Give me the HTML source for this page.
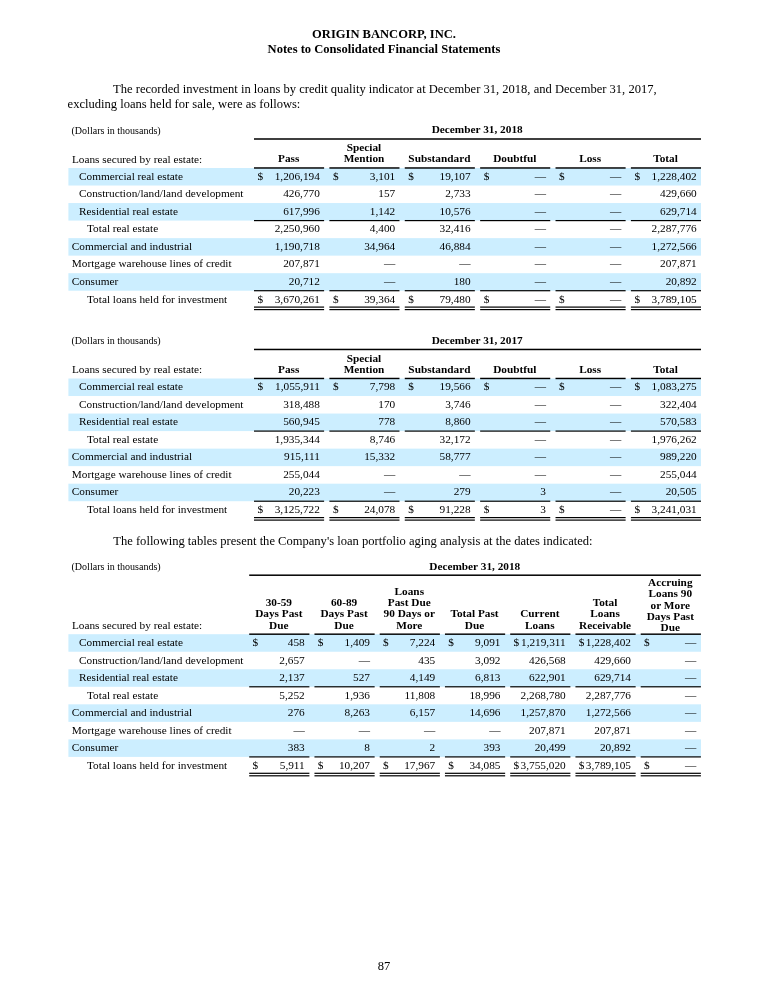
<!DOCTYPE html>
<html><head><meta charset="utf-8"><title>Origin Bancorp</title>
<style>
html,body{margin:0;padding:0;background:#fff;}
body{width:768px;height:993px;position:relative;overflow:hidden;font-family:"Liberation Serif",serif;color:#000;}
.t{position:absolute;white-space:nowrap;line-height:16px;}
.bg{position:absolute;left:0;top:0;}
.txt{position:absolute;left:0;top:0;width:768px;height:993px;will-change:transform;}
</style></head><body>
<svg class="bg" width="768" height="993" viewBox="0 0 768 993">
<rect x="68.40" y="168.00" width="632.60" height="17.53" fill="#cceeff"/>
<rect x="68.40" y="203.06" width="632.60" height="17.53" fill="#cceeff"/>
<rect x="68.40" y="238.12" width="632.60" height="17.53" fill="#cceeff"/>
<rect x="68.40" y="273.18" width="632.60" height="17.53" fill="#cceeff"/>
<rect x="254.00" y="138.25" width="447.00" height="1.50" fill="#000"/>
<rect x="254.00" y="167.25" width="70.10" height="1.45" fill="#000"/>
<rect x="329.38" y="167.25" width="70.10" height="1.45" fill="#000"/>
<rect x="404.76" y="167.25" width="70.10" height="1.45" fill="#000"/>
<rect x="480.14" y="167.25" width="70.10" height="1.45" fill="#000"/>
<rect x="555.52" y="167.25" width="70.10" height="1.45" fill="#000"/>
<rect x="630.90" y="167.25" width="70.10" height="1.45" fill="#000"/>
<rect x="254.00" y="219.99" width="70.10" height="1.20" fill="#000"/>
<rect x="329.38" y="219.99" width="70.10" height="1.20" fill="#000"/>
<rect x="404.76" y="219.99" width="70.10" height="1.20" fill="#000"/>
<rect x="480.14" y="219.99" width="70.10" height="1.20" fill="#000"/>
<rect x="555.52" y="219.99" width="70.10" height="1.20" fill="#000"/>
<rect x="630.90" y="219.99" width="70.10" height="1.20" fill="#000"/>
<rect x="254.00" y="290.11" width="70.10" height="1.20" fill="#000"/>
<rect x="329.38" y="290.11" width="70.10" height="1.20" fill="#000"/>
<rect x="404.76" y="290.11" width="70.10" height="1.20" fill="#000"/>
<rect x="480.14" y="290.11" width="70.10" height="1.20" fill="#000"/>
<rect x="555.52" y="290.11" width="70.10" height="1.20" fill="#000"/>
<rect x="630.90" y="290.11" width="70.10" height="1.20" fill="#000"/>
<rect x="254.00" y="306.50" width="70.10" height="1.20" fill="#000"/>
<rect x="254.00" y="309.00" width="70.10" height="1.20" fill="#000"/>
<rect x="329.38" y="306.50" width="70.10" height="1.20" fill="#000"/>
<rect x="329.38" y="309.00" width="70.10" height="1.20" fill="#000"/>
<rect x="404.76" y="306.50" width="70.10" height="1.20" fill="#000"/>
<rect x="404.76" y="309.00" width="70.10" height="1.20" fill="#000"/>
<rect x="480.14" y="306.50" width="70.10" height="1.20" fill="#000"/>
<rect x="480.14" y="309.00" width="70.10" height="1.20" fill="#000"/>
<rect x="555.52" y="306.50" width="70.10" height="1.20" fill="#000"/>
<rect x="555.52" y="309.00" width="70.10" height="1.20" fill="#000"/>
<rect x="630.90" y="306.50" width="70.10" height="1.20" fill="#000"/>
<rect x="630.90" y="309.00" width="70.10" height="1.20" fill="#000"/>
<rect x="68.40" y="378.50" width="632.60" height="17.53" fill="#cceeff"/>
<rect x="68.40" y="413.56" width="632.60" height="17.53" fill="#cceeff"/>
<rect x="68.40" y="448.62" width="632.60" height="17.53" fill="#cceeff"/>
<rect x="68.40" y="483.68" width="632.60" height="17.53" fill="#cceeff"/>
<rect x="254.00" y="348.72" width="447.00" height="1.50" fill="#000"/>
<rect x="254.00" y="377.75" width="70.10" height="1.45" fill="#000"/>
<rect x="329.38" y="377.75" width="70.10" height="1.45" fill="#000"/>
<rect x="404.76" y="377.75" width="70.10" height="1.45" fill="#000"/>
<rect x="480.14" y="377.75" width="70.10" height="1.45" fill="#000"/>
<rect x="555.52" y="377.75" width="70.10" height="1.45" fill="#000"/>
<rect x="630.90" y="377.75" width="70.10" height="1.45" fill="#000"/>
<rect x="254.00" y="430.49" width="70.10" height="1.20" fill="#000"/>
<rect x="329.38" y="430.49" width="70.10" height="1.20" fill="#000"/>
<rect x="404.76" y="430.49" width="70.10" height="1.20" fill="#000"/>
<rect x="480.14" y="430.49" width="70.10" height="1.20" fill="#000"/>
<rect x="555.52" y="430.49" width="70.10" height="1.20" fill="#000"/>
<rect x="630.90" y="430.49" width="70.10" height="1.20" fill="#000"/>
<rect x="254.00" y="500.61" width="70.10" height="1.20" fill="#000"/>
<rect x="329.38" y="500.61" width="70.10" height="1.20" fill="#000"/>
<rect x="404.76" y="500.61" width="70.10" height="1.20" fill="#000"/>
<rect x="480.14" y="500.61" width="70.10" height="1.20" fill="#000"/>
<rect x="555.52" y="500.61" width="70.10" height="1.20" fill="#000"/>
<rect x="630.90" y="500.61" width="70.10" height="1.20" fill="#000"/>
<rect x="254.00" y="517.00" width="70.10" height="1.20" fill="#000"/>
<rect x="254.00" y="519.50" width="70.10" height="1.20" fill="#000"/>
<rect x="329.38" y="517.00" width="70.10" height="1.20" fill="#000"/>
<rect x="329.38" y="519.50" width="70.10" height="1.20" fill="#000"/>
<rect x="404.76" y="517.00" width="70.10" height="1.20" fill="#000"/>
<rect x="404.76" y="519.50" width="70.10" height="1.20" fill="#000"/>
<rect x="480.14" y="517.00" width="70.10" height="1.20" fill="#000"/>
<rect x="480.14" y="519.50" width="70.10" height="1.20" fill="#000"/>
<rect x="555.52" y="517.00" width="70.10" height="1.20" fill="#000"/>
<rect x="555.52" y="519.50" width="70.10" height="1.20" fill="#000"/>
<rect x="630.90" y="517.00" width="70.10" height="1.20" fill="#000"/>
<rect x="630.90" y="519.50" width="70.10" height="1.20" fill="#000"/>
<rect x="68.40" y="634.20" width="632.60" height="17.53" fill="#cceeff"/>
<rect x="68.40" y="669.26" width="632.60" height="17.53" fill="#cceeff"/>
<rect x="68.40" y="704.32" width="632.60" height="17.53" fill="#cceeff"/>
<rect x="68.40" y="739.38" width="632.60" height="17.53" fill="#cceeff"/>
<rect x="249.20" y="574.45" width="451.70" height="1.50" fill="#000"/>
<rect x="249.20" y="633.45" width="60.20" height="1.45" fill="#000"/>
<rect x="314.45" y="633.45" width="60.20" height="1.45" fill="#000"/>
<rect x="379.70" y="633.45" width="60.20" height="1.45" fill="#000"/>
<rect x="444.95" y="633.45" width="60.20" height="1.45" fill="#000"/>
<rect x="510.20" y="633.45" width="60.20" height="1.45" fill="#000"/>
<rect x="575.45" y="633.45" width="60.20" height="1.45" fill="#000"/>
<rect x="640.70" y="633.45" width="60.20" height="1.45" fill="#000"/>
<rect x="249.20" y="686.19" width="60.20" height="1.20" fill="#000"/>
<rect x="314.45" y="686.19" width="60.20" height="1.20" fill="#000"/>
<rect x="379.70" y="686.19" width="60.20" height="1.20" fill="#000"/>
<rect x="444.95" y="686.19" width="60.20" height="1.20" fill="#000"/>
<rect x="510.20" y="686.19" width="60.20" height="1.20" fill="#000"/>
<rect x="575.45" y="686.19" width="60.20" height="1.20" fill="#000"/>
<rect x="640.70" y="686.19" width="60.20" height="1.20" fill="#000"/>
<rect x="249.20" y="756.31" width="60.20" height="1.20" fill="#000"/>
<rect x="314.45" y="756.31" width="60.20" height="1.20" fill="#000"/>
<rect x="379.70" y="756.31" width="60.20" height="1.20" fill="#000"/>
<rect x="444.95" y="756.31" width="60.20" height="1.20" fill="#000"/>
<rect x="510.20" y="756.31" width="60.20" height="1.20" fill="#000"/>
<rect x="575.45" y="756.31" width="60.20" height="1.20" fill="#000"/>
<rect x="640.70" y="756.31" width="60.20" height="1.20" fill="#000"/>
<rect x="249.20" y="772.70" width="60.20" height="1.20" fill="#000"/>
<rect x="249.20" y="775.20" width="60.20" height="1.20" fill="#000"/>
<rect x="314.45" y="772.70" width="60.20" height="1.20" fill="#000"/>
<rect x="314.45" y="775.20" width="60.20" height="1.20" fill="#000"/>
<rect x="379.70" y="772.70" width="60.20" height="1.20" fill="#000"/>
<rect x="379.70" y="775.20" width="60.20" height="1.20" fill="#000"/>
<rect x="444.95" y="772.70" width="60.20" height="1.20" fill="#000"/>
<rect x="444.95" y="775.20" width="60.20" height="1.20" fill="#000"/>
<rect x="510.20" y="772.70" width="60.20" height="1.20" fill="#000"/>
<rect x="510.20" y="775.20" width="60.20" height="1.20" fill="#000"/>
<rect x="575.45" y="772.70" width="60.20" height="1.20" fill="#000"/>
<rect x="575.45" y="775.20" width="60.20" height="1.20" fill="#000"/>
<rect x="640.70" y="772.70" width="60.20" height="1.20" fill="#000"/>
<rect x="640.70" y="775.20" width="60.20" height="1.20" fill="#000"/>
</svg>
<div class="txt">
<div class="t" style="top:26px;font-size:12.55px;font-weight:bold;left:134.00px;width:500.00px;text-align:center;">ORIGIN BANCORP, INC.</div>
<div class="t" style="top:41px;font-size:12.55px;font-weight:bold;left:134.00px;width:500.00px;text-align:center;">Notes to Consolidated Financial Statements</div>
<div class="t" style="top:81px;font-size:12.55px;left:113.10px;">The recorded investment in loans by credit quality indicator at December 31, 2018, and December 31, 2017,</div>
<div class="t" style="top:96px;font-size:12.55px;left:67.60px;">excluding loans held for sale, were as follows:</div>
<div class="t" style="top:123px;font-size:10.04px;left:71.50px;">(Dollars in thousands)</div>
<div class="t" style="top:121px;font-size:11.29px;font-weight:bold;left:327.20px;width:300.00px;text-align:center;">December 31, 2018</div>
<div class="t" style="top:151px;font-size:11.29px;left:71.90px;">Loans secured by real estate:</div>
<div class="t" style="top:150px;font-size:11.29px;font-weight:bold;left:228.65px;width:120.00px;text-align:center;">Pass</div>
<div class="t" style="top:139px;font-size:11.29px;font-weight:bold;left:304.03px;width:120.00px;text-align:center;">Special</div>
<div class="t" style="top:150px;font-size:11.29px;font-weight:bold;left:304.03px;width:120.00px;text-align:center;">Mention</div>
<div class="t" style="top:150px;font-size:11.29px;font-weight:bold;left:379.41px;width:120.00px;text-align:center;">Substandard</div>
<div class="t" style="top:150px;font-size:11.29px;font-weight:bold;left:454.79px;width:120.00px;text-align:center;">Doubtful</div>
<div class="t" style="top:150px;font-size:11.29px;font-weight:bold;left:530.17px;width:120.00px;text-align:center;">Loss</div>
<div class="t" style="top:150px;font-size:11.29px;font-weight:bold;left:605.55px;width:120.00px;text-align:center;">Total</div>
<div class="t" style="top:168px;font-size:11.29px;left:79.00px;">Commercial real estate</div>
<div class="t" style="top:168px;font-size:11.29px;right:448.20px;text-align:right;">1,206,194</div>
<div class="t" style="top:168px;font-size:11.29px;left:257.50px;">$</div>
<div class="t" style="top:168px;font-size:11.29px;right:372.82px;text-align:right;">3,101</div>
<div class="t" style="top:168px;font-size:11.29px;left:332.88px;">$</div>
<div class="t" style="top:168px;font-size:11.29px;right:297.44px;text-align:right;">19,107</div>
<div class="t" style="top:168px;font-size:11.29px;left:408.26px;">$</div>
<div class="t" style="top:168px;font-size:11.29px;right:222.06px;text-align:right;">&#8212;</div>
<div class="t" style="top:168px;font-size:11.29px;left:483.64px;">$</div>
<div class="t" style="top:168px;font-size:11.29px;right:146.68px;text-align:right;">&#8212;</div>
<div class="t" style="top:168px;font-size:11.29px;left:559.02px;">$</div>
<div class="t" style="top:168px;font-size:11.29px;right:71.30px;text-align:right;">1,228,402</div>
<div class="t" style="top:168px;font-size:11.29px;left:634.40px;">$</div>
<div class="t" style="top:185px;font-size:11.29px;left:79.00px;">Construction/land/land development</div>
<div class="t" style="top:185px;font-size:11.29px;right:448.20px;text-align:right;">426,770</div>
<div class="t" style="top:185px;font-size:11.29px;right:372.82px;text-align:right;">157</div>
<div class="t" style="top:185px;font-size:11.29px;right:297.44px;text-align:right;">2,733</div>
<div class="t" style="top:185px;font-size:11.29px;right:222.06px;text-align:right;">&#8212;</div>
<div class="t" style="top:185px;font-size:11.29px;right:146.68px;text-align:right;">&#8212;</div>
<div class="t" style="top:185px;font-size:11.29px;right:71.30px;text-align:right;">429,660</div>
<div class="t" style="top:203px;font-size:11.29px;left:79.00px;">Residential real estate</div>
<div class="t" style="top:203px;font-size:11.29px;right:448.20px;text-align:right;">617,996</div>
<div class="t" style="top:203px;font-size:11.29px;right:372.82px;text-align:right;">1,142</div>
<div class="t" style="top:203px;font-size:11.29px;right:297.44px;text-align:right;">10,576</div>
<div class="t" style="top:203px;font-size:11.29px;right:222.06px;text-align:right;">&#8212;</div>
<div class="t" style="top:203px;font-size:11.29px;right:146.68px;text-align:right;">&#8212;</div>
<div class="t" style="top:203px;font-size:11.29px;right:71.30px;text-align:right;">629,714</div>
<div class="t" style="top:220px;font-size:11.29px;left:87.00px;">Total real estate</div>
<div class="t" style="top:220px;font-size:11.29px;right:448.20px;text-align:right;">2,250,960</div>
<div class="t" style="top:220px;font-size:11.29px;right:372.82px;text-align:right;">4,400</div>
<div class="t" style="top:220px;font-size:11.29px;right:297.44px;text-align:right;">32,416</div>
<div class="t" style="top:220px;font-size:11.29px;right:222.06px;text-align:right;">&#8212;</div>
<div class="t" style="top:220px;font-size:11.29px;right:146.68px;text-align:right;">&#8212;</div>
<div class="t" style="top:220px;font-size:11.29px;right:71.30px;text-align:right;">2,287,776</div>
<div class="t" style="top:238px;font-size:11.29px;left:71.80px;">Commercial and industrial</div>
<div class="t" style="top:238px;font-size:11.29px;right:448.20px;text-align:right;">1,190,718</div>
<div class="t" style="top:238px;font-size:11.29px;right:372.82px;text-align:right;">34,964</div>
<div class="t" style="top:238px;font-size:11.29px;right:297.44px;text-align:right;">46,884</div>
<div class="t" style="top:238px;font-size:11.29px;right:222.06px;text-align:right;">&#8212;</div>
<div class="t" style="top:238px;font-size:11.29px;right:146.68px;text-align:right;">&#8212;</div>
<div class="t" style="top:238px;font-size:11.29px;right:71.30px;text-align:right;">1,272,566</div>
<div class="t" style="top:255px;font-size:11.29px;left:71.80px;">Mortgage warehouse lines of credit</div>
<div class="t" style="top:255px;font-size:11.29px;right:448.20px;text-align:right;">207,871</div>
<div class="t" style="top:255px;font-size:11.29px;right:372.82px;text-align:right;">&#8212;</div>
<div class="t" style="top:255px;font-size:11.29px;right:297.44px;text-align:right;">&#8212;</div>
<div class="t" style="top:255px;font-size:11.29px;right:222.06px;text-align:right;">&#8212;</div>
<div class="t" style="top:255px;font-size:11.29px;right:146.68px;text-align:right;">&#8212;</div>
<div class="t" style="top:255px;font-size:11.29px;right:71.30px;text-align:right;">207,871</div>
<div class="t" style="top:273px;font-size:11.29px;left:71.80px;">Consumer</div>
<div class="t" style="top:273px;font-size:11.29px;right:448.20px;text-align:right;">20,712</div>
<div class="t" style="top:273px;font-size:11.29px;right:372.82px;text-align:right;">&#8212;</div>
<div class="t" style="top:273px;font-size:11.29px;right:297.44px;text-align:right;">180</div>
<div class="t" style="top:273px;font-size:11.29px;right:222.06px;text-align:right;">&#8212;</div>
<div class="t" style="top:273px;font-size:11.29px;right:146.68px;text-align:right;">&#8212;</div>
<div class="t" style="top:273px;font-size:11.29px;right:71.30px;text-align:right;">20,892</div>
<div class="t" style="top:291px;font-size:11.29px;left:87.00px;">Total loans held for investment</div>
<div class="t" style="top:291px;font-size:11.29px;right:448.20px;text-align:right;">3,670,261</div>
<div class="t" style="top:291px;font-size:11.29px;left:257.50px;">$</div>
<div class="t" style="top:291px;font-size:11.29px;right:372.82px;text-align:right;">39,364</div>
<div class="t" style="top:291px;font-size:11.29px;left:332.88px;">$</div>
<div class="t" style="top:291px;font-size:11.29px;right:297.44px;text-align:right;">79,480</div>
<div class="t" style="top:291px;font-size:11.29px;left:408.26px;">$</div>
<div class="t" style="top:291px;font-size:11.29px;right:222.06px;text-align:right;">&#8212;</div>
<div class="t" style="top:291px;font-size:11.29px;left:483.64px;">$</div>
<div class="t" style="top:291px;font-size:11.29px;right:146.68px;text-align:right;">&#8212;</div>
<div class="t" style="top:291px;font-size:11.29px;left:559.02px;">$</div>
<div class="t" style="top:291px;font-size:11.29px;right:71.30px;text-align:right;">3,789,105</div>
<div class="t" style="top:291px;font-size:11.29px;left:634.40px;">$</div>
<div class="t" style="top:333px;font-size:10.04px;left:71.50px;">(Dollars in thousands)</div>
<div class="t" style="top:332px;font-size:11.29px;font-weight:bold;left:327.20px;width:300.00px;text-align:center;">December 31, 2017</div>
<div class="t" style="top:361px;font-size:11.29px;left:71.90px;">Loans secured by real estate:</div>
<div class="t" style="top:361px;font-size:11.29px;font-weight:bold;left:228.65px;width:120.00px;text-align:center;">Pass</div>
<div class="t" style="top:350px;font-size:11.29px;font-weight:bold;left:304.03px;width:120.00px;text-align:center;">Special</div>
<div class="t" style="top:361px;font-size:11.29px;font-weight:bold;left:304.03px;width:120.00px;text-align:center;">Mention</div>
<div class="t" style="top:361px;font-size:11.29px;font-weight:bold;left:379.41px;width:120.00px;text-align:center;">Substandard</div>
<div class="t" style="top:361px;font-size:11.29px;font-weight:bold;left:454.79px;width:120.00px;text-align:center;">Doubtful</div>
<div class="t" style="top:361px;font-size:11.29px;font-weight:bold;left:530.17px;width:120.00px;text-align:center;">Loss</div>
<div class="t" style="top:361px;font-size:11.29px;font-weight:bold;left:605.55px;width:120.00px;text-align:center;">Total</div>
<div class="t" style="top:378px;font-size:11.29px;left:79.00px;">Commercial real estate</div>
<div class="t" style="top:378px;font-size:11.29px;right:448.20px;text-align:right;">1,055,911</div>
<div class="t" style="top:378px;font-size:11.29px;left:257.50px;">$</div>
<div class="t" style="top:378px;font-size:11.29px;right:372.82px;text-align:right;">7,798</div>
<div class="t" style="top:378px;font-size:11.29px;left:332.88px;">$</div>
<div class="t" style="top:378px;font-size:11.29px;right:297.44px;text-align:right;">19,566</div>
<div class="t" style="top:378px;font-size:11.29px;left:408.26px;">$</div>
<div class="t" style="top:378px;font-size:11.29px;right:222.06px;text-align:right;">&#8212;</div>
<div class="t" style="top:378px;font-size:11.29px;left:483.64px;">$</div>
<div class="t" style="top:378px;font-size:11.29px;right:146.68px;text-align:right;">&#8212;</div>
<div class="t" style="top:378px;font-size:11.29px;left:559.02px;">$</div>
<div class="t" style="top:378px;font-size:11.29px;right:71.30px;text-align:right;">1,083,275</div>
<div class="t" style="top:378px;font-size:11.29px;left:634.40px;">$</div>
<div class="t" style="top:396px;font-size:11.29px;left:79.00px;">Construction/land/land development</div>
<div class="t" style="top:396px;font-size:11.29px;right:448.20px;text-align:right;">318,488</div>
<div class="t" style="top:396px;font-size:11.29px;right:372.82px;text-align:right;">170</div>
<div class="t" style="top:396px;font-size:11.29px;right:297.44px;text-align:right;">3,746</div>
<div class="t" style="top:396px;font-size:11.29px;right:222.06px;text-align:right;">&#8212;</div>
<div class="t" style="top:396px;font-size:11.29px;right:146.68px;text-align:right;">&#8212;</div>
<div class="t" style="top:396px;font-size:11.29px;right:71.30px;text-align:right;">322,404</div>
<div class="t" style="top:413px;font-size:11.29px;left:79.00px;">Residential real estate</div>
<div class="t" style="top:413px;font-size:11.29px;right:448.20px;text-align:right;">560,945</div>
<div class="t" style="top:413px;font-size:11.29px;right:372.82px;text-align:right;">778</div>
<div class="t" style="top:413px;font-size:11.29px;right:297.44px;text-align:right;">8,860</div>
<div class="t" style="top:413px;font-size:11.29px;right:222.06px;text-align:right;">&#8212;</div>
<div class="t" style="top:413px;font-size:11.29px;right:146.68px;text-align:right;">&#8212;</div>
<div class="t" style="top:413px;font-size:11.29px;right:71.30px;text-align:right;">570,583</div>
<div class="t" style="top:431px;font-size:11.29px;left:87.00px;">Total real estate</div>
<div class="t" style="top:431px;font-size:11.29px;right:448.20px;text-align:right;">1,935,344</div>
<div class="t" style="top:431px;font-size:11.29px;right:372.82px;text-align:right;">8,746</div>
<div class="t" style="top:431px;font-size:11.29px;right:297.44px;text-align:right;">32,172</div>
<div class="t" style="top:431px;font-size:11.29px;right:222.06px;text-align:right;">&#8212;</div>
<div class="t" style="top:431px;font-size:11.29px;right:146.68px;text-align:right;">&#8212;</div>
<div class="t" style="top:431px;font-size:11.29px;right:71.30px;text-align:right;">1,976,262</div>
<div class="t" style="top:448px;font-size:11.29px;left:71.80px;">Commercial and industrial</div>
<div class="t" style="top:448px;font-size:11.29px;right:448.20px;text-align:right;">915,111</div>
<div class="t" style="top:448px;font-size:11.29px;right:372.82px;text-align:right;">15,332</div>
<div class="t" style="top:448px;font-size:11.29px;right:297.44px;text-align:right;">58,777</div>
<div class="t" style="top:448px;font-size:11.29px;right:222.06px;text-align:right;">&#8212;</div>
<div class="t" style="top:448px;font-size:11.29px;right:146.68px;text-align:right;">&#8212;</div>
<div class="t" style="top:448px;font-size:11.29px;right:71.30px;text-align:right;">989,220</div>
<div class="t" style="top:466px;font-size:11.29px;left:71.80px;">Mortgage warehouse lines of credit</div>
<div class="t" style="top:466px;font-size:11.29px;right:448.20px;text-align:right;">255,044</div>
<div class="t" style="top:466px;font-size:11.29px;right:372.82px;text-align:right;">&#8212;</div>
<div class="t" style="top:466px;font-size:11.29px;right:297.44px;text-align:right;">&#8212;</div>
<div class="t" style="top:466px;font-size:11.29px;right:222.06px;text-align:right;">&#8212;</div>
<div class="t" style="top:466px;font-size:11.29px;right:146.68px;text-align:right;">&#8212;</div>
<div class="t" style="top:466px;font-size:11.29px;right:71.30px;text-align:right;">255,044</div>
<div class="t" style="top:483px;font-size:11.29px;left:71.80px;">Consumer</div>
<div class="t" style="top:483px;font-size:11.29px;right:448.20px;text-align:right;">20,223</div>
<div class="t" style="top:483px;font-size:11.29px;right:372.82px;text-align:right;">&#8212;</div>
<div class="t" style="top:483px;font-size:11.29px;right:297.44px;text-align:right;">279</div>
<div class="t" style="top:483px;font-size:11.29px;right:222.06px;text-align:right;">3</div>
<div class="t" style="top:483px;font-size:11.29px;right:146.68px;text-align:right;">&#8212;</div>
<div class="t" style="top:483px;font-size:11.29px;right:71.30px;text-align:right;">20,505</div>
<div class="t" style="top:501px;font-size:11.29px;left:87.00px;">Total loans held for investment</div>
<div class="t" style="top:501px;font-size:11.29px;right:448.20px;text-align:right;">3,125,722</div>
<div class="t" style="top:501px;font-size:11.29px;left:257.50px;">$</div>
<div class="t" style="top:501px;font-size:11.29px;right:372.82px;text-align:right;">24,078</div>
<div class="t" style="top:501px;font-size:11.29px;left:332.88px;">$</div>
<div class="t" style="top:501px;font-size:11.29px;right:297.44px;text-align:right;">91,228</div>
<div class="t" style="top:501px;font-size:11.29px;left:408.26px;">$</div>
<div class="t" style="top:501px;font-size:11.29px;right:222.06px;text-align:right;">3</div>
<div class="t" style="top:501px;font-size:11.29px;left:483.64px;">$</div>
<div class="t" style="top:501px;font-size:11.29px;right:146.68px;text-align:right;">&#8212;</div>
<div class="t" style="top:501px;font-size:11.29px;left:559.02px;">$</div>
<div class="t" style="top:501px;font-size:11.29px;right:71.30px;text-align:right;">3,241,031</div>
<div class="t" style="top:501px;font-size:11.29px;left:634.40px;">$</div>
<div class="t" style="top:533px;font-size:12.55px;left:113.30px;">The following tables present the Company's loan portfolio aging analysis at the dates indicated:</div>
<div class="t" style="top:559px;font-size:10.04px;left:71.50px;">(Dollars in thousands)</div>
<div class="t" style="top:558px;font-size:11.29px;font-weight:bold;left:324.75px;width:300.00px;text-align:center;">December 31, 2018</div>
<div class="t" style="top:617px;font-size:11.29px;left:71.90px;">Loans secured by real estate:</div>
<div class="t" style="top:594px;font-size:11.29px;font-weight:bold;left:218.80px;width:120.00px;text-align:center;">30-59</div>
<div class="t" style="top:605px;font-size:11.29px;font-weight:bold;left:218.80px;width:120.00px;text-align:center;">Days Past</div>
<div class="t" style="top:617px;font-size:11.29px;font-weight:bold;left:218.80px;width:120.00px;text-align:center;">Due</div>
<div class="t" style="top:594px;font-size:11.29px;font-weight:bold;left:284.05px;width:120.00px;text-align:center;">60-89</div>
<div class="t" style="top:605px;font-size:11.29px;font-weight:bold;left:284.05px;width:120.00px;text-align:center;">Days Past</div>
<div class="t" style="top:617px;font-size:11.29px;font-weight:bold;left:284.05px;width:120.00px;text-align:center;">Due</div>
<div class="t" style="top:583px;font-size:11.29px;font-weight:bold;left:349.30px;width:120.00px;text-align:center;">Loans</div>
<div class="t" style="top:594px;font-size:11.29px;font-weight:bold;left:349.30px;width:120.00px;text-align:center;">Past Due</div>
<div class="t" style="top:605px;font-size:11.29px;font-weight:bold;left:349.30px;width:120.00px;text-align:center;">90 Days or</div>
<div class="t" style="top:617px;font-size:11.29px;font-weight:bold;left:349.30px;width:120.00px;text-align:center;">More</div>
<div class="t" style="top:605px;font-size:11.29px;font-weight:bold;left:414.55px;width:120.00px;text-align:center;">Total Past</div>
<div class="t" style="top:617px;font-size:11.29px;font-weight:bold;left:414.55px;width:120.00px;text-align:center;">Due</div>
<div class="t" style="top:605px;font-size:11.29px;font-weight:bold;left:479.80px;width:120.00px;text-align:center;">Current</div>
<div class="t" style="top:617px;font-size:11.29px;font-weight:bold;left:479.80px;width:120.00px;text-align:center;">Loans</div>
<div class="t" style="top:594px;font-size:11.29px;font-weight:bold;left:545.05px;width:120.00px;text-align:center;">Total</div>
<div class="t" style="top:605px;font-size:11.29px;font-weight:bold;left:545.05px;width:120.00px;text-align:center;">Loans</div>
<div class="t" style="top:617px;font-size:11.29px;font-weight:bold;left:545.05px;width:120.00px;text-align:center;">Receivable</div>
<div class="t" style="top:574px;font-size:11.29px;font-weight:bold;left:610.30px;width:120.00px;text-align:center;">Accruing</div>
<div class="t" style="top:585px;font-size:11.29px;font-weight:bold;left:610.30px;width:120.00px;text-align:center;">Loans 90</div>
<div class="t" style="top:597px;font-size:11.29px;font-weight:bold;left:610.30px;width:120.00px;text-align:center;">or More</div>
<div class="t" style="top:608px;font-size:11.29px;font-weight:bold;left:610.30px;width:120.00px;text-align:center;">Days Past</div>
<div class="t" style="top:619px;font-size:11.29px;font-weight:bold;left:610.30px;width:120.00px;text-align:center;">Due</div>
<div class="t" style="top:634px;font-size:11.29px;left:79.00px;">Commercial real estate</div>
<div class="t" style="top:634px;font-size:11.29px;right:463.30px;text-align:right;">458</div>
<div class="t" style="top:634px;font-size:11.29px;left:252.40px;">$</div>
<div class="t" style="top:634px;font-size:11.29px;right:398.05px;text-align:right;">1,409</div>
<div class="t" style="top:634px;font-size:11.29px;left:317.65px;">$</div>
<div class="t" style="top:634px;font-size:11.29px;right:332.80px;text-align:right;">7,224</div>
<div class="t" style="top:634px;font-size:11.29px;left:382.90px;">$</div>
<div class="t" style="top:634px;font-size:11.29px;right:267.55px;text-align:right;">9,091</div>
<div class="t" style="top:634px;font-size:11.29px;left:448.15px;">$</div>
<div class="t" style="top:634px;font-size:11.29px;right:202.30px;text-align:right;">1,219,311</div>
<div class="t" style="top:634px;font-size:11.29px;left:513.40px;">$</div>
<div class="t" style="top:634px;font-size:11.29px;right:137.05px;text-align:right;">1,228,402</div>
<div class="t" style="top:634px;font-size:11.29px;left:578.65px;">$</div>
<div class="t" style="top:634px;font-size:11.29px;right:71.80px;text-align:right;">&#8212;</div>
<div class="t" style="top:634px;font-size:11.29px;left:643.90px;">$</div>
<div class="t" style="top:652px;font-size:11.29px;left:79.00px;">Construction/land/land development</div>
<div class="t" style="top:652px;font-size:11.29px;right:463.30px;text-align:right;">2,657</div>
<div class="t" style="top:652px;font-size:11.29px;right:398.05px;text-align:right;">&#8212;</div>
<div class="t" style="top:652px;font-size:11.29px;right:332.80px;text-align:right;">435</div>
<div class="t" style="top:652px;font-size:11.29px;right:267.55px;text-align:right;">3,092</div>
<div class="t" style="top:652px;font-size:11.29px;right:202.30px;text-align:right;">426,568</div>
<div class="t" style="top:652px;font-size:11.29px;right:137.05px;text-align:right;">429,660</div>
<div class="t" style="top:652px;font-size:11.29px;right:71.80px;text-align:right;">&#8212;</div>
<div class="t" style="top:669px;font-size:11.29px;left:79.00px;">Residential real estate</div>
<div class="t" style="top:669px;font-size:11.29px;right:463.30px;text-align:right;">2,137</div>
<div class="t" style="top:669px;font-size:11.29px;right:398.05px;text-align:right;">527</div>
<div class="t" style="top:669px;font-size:11.29px;right:332.80px;text-align:right;">4,149</div>
<div class="t" style="top:669px;font-size:11.29px;right:267.55px;text-align:right;">6,813</div>
<div class="t" style="top:669px;font-size:11.29px;right:202.30px;text-align:right;">622,901</div>
<div class="t" style="top:669px;font-size:11.29px;right:137.05px;text-align:right;">629,714</div>
<div class="t" style="top:669px;font-size:11.29px;right:71.80px;text-align:right;">&#8212;</div>
<div class="t" style="top:687px;font-size:11.29px;left:87.00px;">Total real estate</div>
<div class="t" style="top:687px;font-size:11.29px;right:463.30px;text-align:right;">5,252</div>
<div class="t" style="top:687px;font-size:11.29px;right:398.05px;text-align:right;">1,936</div>
<div class="t" style="top:687px;font-size:11.29px;right:332.80px;text-align:right;">11,808</div>
<div class="t" style="top:687px;font-size:11.29px;right:267.55px;text-align:right;">18,996</div>
<div class="t" style="top:687px;font-size:11.29px;right:202.30px;text-align:right;">2,268,780</div>
<div class="t" style="top:687px;font-size:11.29px;right:137.05px;text-align:right;">2,287,776</div>
<div class="t" style="top:687px;font-size:11.29px;right:71.80px;text-align:right;">&#8212;</div>
<div class="t" style="top:704px;font-size:11.29px;left:71.80px;">Commercial and industrial</div>
<div class="t" style="top:704px;font-size:11.29px;right:463.30px;text-align:right;">276</div>
<div class="t" style="top:704px;font-size:11.29px;right:398.05px;text-align:right;">8,263</div>
<div class="t" style="top:704px;font-size:11.29px;right:332.80px;text-align:right;">6,157</div>
<div class="t" style="top:704px;font-size:11.29px;right:267.55px;text-align:right;">14,696</div>
<div class="t" style="top:704px;font-size:11.29px;right:202.30px;text-align:right;">1,257,870</div>
<div class="t" style="top:704px;font-size:11.29px;right:137.05px;text-align:right;">1,272,566</div>
<div class="t" style="top:704px;font-size:11.29px;right:71.80px;text-align:right;">&#8212;</div>
<div class="t" style="top:722px;font-size:11.29px;left:71.80px;">Mortgage warehouse lines of credit</div>
<div class="t" style="top:722px;font-size:11.29px;right:463.30px;text-align:right;">&#8212;</div>
<div class="t" style="top:722px;font-size:11.29px;right:398.05px;text-align:right;">&#8212;</div>
<div class="t" style="top:722px;font-size:11.29px;right:332.80px;text-align:right;">&#8212;</div>
<div class="t" style="top:722px;font-size:11.29px;right:267.55px;text-align:right;">&#8212;</div>
<div class="t" style="top:722px;font-size:11.29px;right:202.30px;text-align:right;">207,871</div>
<div class="t" style="top:722px;font-size:11.29px;right:137.05px;text-align:right;">207,871</div>
<div class="t" style="top:722px;font-size:11.29px;right:71.80px;text-align:right;">&#8212;</div>
<div class="t" style="top:739px;font-size:11.29px;left:71.80px;">Consumer</div>
<div class="t" style="top:739px;font-size:11.29px;right:463.30px;text-align:right;">383</div>
<div class="t" style="top:739px;font-size:11.29px;right:398.05px;text-align:right;">8</div>
<div class="t" style="top:739px;font-size:11.29px;right:332.80px;text-align:right;">2</div>
<div class="t" style="top:739px;font-size:11.29px;right:267.55px;text-align:right;">393</div>
<div class="t" style="top:739px;font-size:11.29px;right:202.30px;text-align:right;">20,499</div>
<div class="t" style="top:739px;font-size:11.29px;right:137.05px;text-align:right;">20,892</div>
<div class="t" style="top:739px;font-size:11.29px;right:71.80px;text-align:right;">&#8212;</div>
<div class="t" style="top:757px;font-size:11.29px;left:87.00px;">Total loans held for investment</div>
<div class="t" style="top:757px;font-size:11.29px;right:463.30px;text-align:right;">5,911</div>
<div class="t" style="top:757px;font-size:11.29px;left:252.40px;">$</div>
<div class="t" style="top:757px;font-size:11.29px;right:398.05px;text-align:right;">10,207</div>
<div class="t" style="top:757px;font-size:11.29px;left:317.65px;">$</div>
<div class="t" style="top:757px;font-size:11.29px;right:332.80px;text-align:right;">17,967</div>
<div class="t" style="top:757px;font-size:11.29px;left:382.90px;">$</div>
<div class="t" style="top:757px;font-size:11.29px;right:267.55px;text-align:right;">34,085</div>
<div class="t" style="top:757px;font-size:11.29px;left:448.15px;">$</div>
<div class="t" style="top:757px;font-size:11.29px;right:202.30px;text-align:right;">3,755,020</div>
<div class="t" style="top:757px;font-size:11.29px;left:513.40px;">$</div>
<div class="t" style="top:757px;font-size:11.29px;right:137.05px;text-align:right;">3,789,105</div>
<div class="t" style="top:757px;font-size:11.29px;left:578.65px;">$</div>
<div class="t" style="top:757px;font-size:11.29px;right:71.80px;text-align:right;">&#8212;</div>
<div class="t" style="top:757px;font-size:11.29px;left:643.90px;">$</div>
<div class="t" style="top:958px;font-size:12.55px;left:334.00px;width:100.00px;text-align:center;">87</div>
</div>
</body></html>
